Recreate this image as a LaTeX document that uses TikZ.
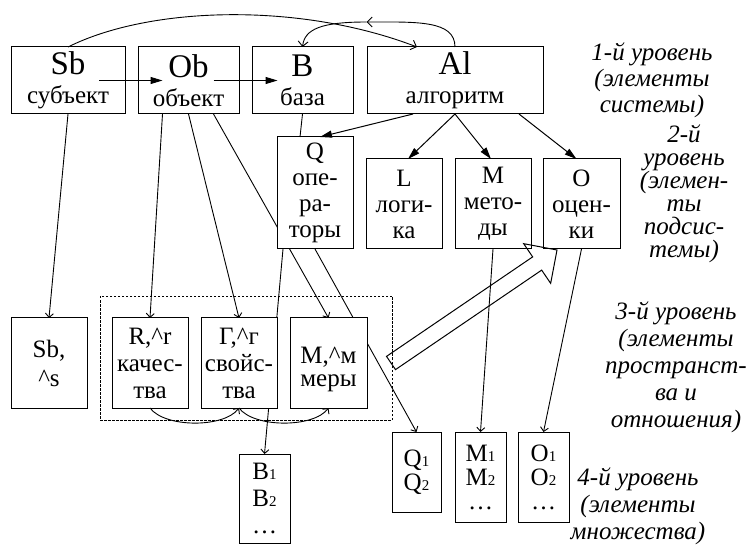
\documentclass[tikz,border=0pt]{standalone}
\usepackage{fontspec}
\setmainfont{Liberation Serif}
\usetikzlibrary{arrows.meta,calc,backgrounds}

% large letters in the top row, small digit indices in the bottom row
\newcommand\headlbl[1]{{\fontsize{33}{36}\selectfont #1}}
\newcommand\digsub[1]{{\fontsize{15}{15}\selectfont #1}}
\newcommand\tightlines{\lineskiplimit=-20pt\relax}

\tikzset{
  box/.style={draw, line width=1pt, fill=white, inner sep=0pt, outer sep=0pt,
    align=center},
  box1/.style={box, minimum height=67pt, font=\fontsize{25}{29}\selectfont},
  box2/.style={box, minimum width=76pt, minimum height=90pt,
    font=\fontsize{25}{26}\selectfont},
  box3/.style={box, minimum width=76pt, minimum height=90pt,
    font=\fontsize{25}{27}\selectfont},
  box4/.style={box, minimum width=51pt, minimum height=90pt,
    font=\fontsize{25}{24}\selectfont},
  txt/.style={inner sep=0pt, align=center},
  lvl/.style={inner sep=0pt, align=center},
  frame/.style={draw, line width=0.8pt, dash pattern=on 2.5pt off 1.5pt,
    inner sep=0pt},
  heavy/.style={line width=1pt, -{Triangle[length=12pt,width=7pt]}},
  conn/.style={line width=0.9pt, -{Straight Barb[length=4pt,width=8pt]}},
  arcline/.style={line width=0.9pt, -{Straight Barb[length=5pt,width=10pt]}},
  plain/.style={line width=0.9pt},
}

\begin{document}
\begin{tikzpicture}[x=1pt, y=-1pt]
\useasboundingbox (0,0) rectangle (747,545);

% ---- level 1: system elements
\node[box1, minimum width=114pt] (Sb) at (68,80.5) {\headlbl{Sb}\\субъект};
\node[box1, minimum width=101pt] (Ob) at (188.5,80.5) {\headlbl{Ob}\\объект};
\node[box1, minimum width=101pt] (B)  at (302.5,80.5) {\headlbl{B}\\база};
\node[box1, minimum width=176pt] (Al) at (455,80.5) {\headlbl{Al}\\алгоритм};

% ---- level 2: subsystem elements
\node[box2, minimum height=112pt] (Q) at (315,193) {Q\\опе-\\ра-\\торы};
\node[box2] (L) at (404,204) {L\\логи-\\ка};
\node[box2] (M) at (493,204) {M\\мето-\\ды};
\node[box2, minimum width=77pt] (O) at (581.5,204) {O\\оцен-\\ки};

% ---- level 3: space and relation elements
\node[box3] (Sbs) at (49,363) {Sb,\\[2pt]\textasciicircum s};
\node[box3] (R) at (150,363) {R,\textasciicircum r\\качес-\\тва};
\node[box3] (G) at (239,363) {Г,\textasciicircum г\\свойс-\\тва};
\node[box3, minimum width=77pt] (Me) at (328.5,363) {};
\node[txt, font=\fontsize{25}{23}\selectfont] (Met) at (328.5,369)
  {M,\textasciicircum м\\меры};

% ---- level 4: set elements
\node[box, minimum width=49pt, minimum height=80pt,
  font=\fontsize{25}{24}\selectfont] (Q1) at (416.5,472)
  {Q\digsub{1}\\Q\digsub{2}};
\node[box4] (M1) at (480.5,477) {M\digsub{1}\\M\digsub{2}\\…};
\node[box4] (O1) at (543.5,477) {O\digsub{1}\\O\digsub{2}\\…};
\node[box, minimum width=51pt, minimum height=89pt,
  font=\fontsize{25}{27}\selectfont] (B1) at (264.5,498.5)
  {B\digsub{1}\\B\digsub{2}\\…};

% ---- level captions
\node[lvl, font=\fontsize{25}{26}\selectfont\itshape] (lv1) at (652,80)
  {1-й уровень\\(элементы\\системы)};
\node[lvl, font={\fontsize{25}{23}\selectfont\itshape\tightlines}] (lv2) at (684,194)
  {2-й\\уровень\\(элемен-\\ты\\подсис-\\темы)};
\node[lvl, font=\fontsize{25}{27}\selectfont\itshape] (lv3) at (676,367)
  {3-й уровень\\(элементы\\пространст-\\ва и\\отношения)};
\node[lvl, font=\fontsize{25}{27}\selectfont\itshape] (lv4) at (638,506)
  {4-й уровень\\(элементы\\множества)};

% ---- lines running behind the boxes, and the dashed group frame
\begin{pgfonlayer}{background}
  \node[frame, minimum width=292pt, minimum height=124pt] (grp) at (246,358) {};
  \draw[conn] ($(Ob.south)+(25,0)$) -- (Me.north);
  \draw[conn] ($(Q.south)+(-32,0)$) -- (B1.north);
  \draw[conn] (Q.south) -- (Q1.north);
\end{pgfonlayer}

% ---- top row arrows
\draw[heavy] ($(Sb)+(31,0)$) -- ($(Ob)+(-26,0)$);
\draw[heavy] ($(Ob)+(25,0)$) -- ($(B)+(-25,0)$);

% ---- curved links over the top row
\coordinate (albmid) at ($(B.north)!0.42!(Al.north)+(0,-25)$);
\draw[arcline] (Sb.north) .. controls (150,6) and (300,2) .. ($(Al.north west)+(50,0)$);
\draw[arcline] (Al.north) .. controls ($(Al.north)+(0,-27)$) and ($(albmid)+(50,0)$) .. (albmid);
\draw[arcline] (albmid) .. controls ($(albmid)+(-45,0)$) and ($(B.north)+(2,-18)$) .. (B.north);

% ---- algorithm to its subsystems
\draw[plain] (B.south) -- ($(Q.north)+(-15,0)$);
\draw[heavy] ($(Al.south)+(-42,0)$) -- ($(Q.north)+(5,0)$);
\draw[heavy] (Al.south) -- ($(L.north)+(4,0)$);
\draw[heavy] (Al.south) -- ($(M.north)+(-2,0)$);
\draw[heavy] ($(Al.south)+(64,0)$) -- ($(O.north)+(-5,0)$);

% ---- links down to levels 3 and 4
\draw[conn] (Sb.south) -- (Sbs.north);
\draw[conn] ($(Ob.south)+(-26,0)$) -- (R.north);
\draw[conn] (Ob.south) -- (G.north);
\draw[conn] (M.south) -- (M1.north);
\draw[conn] (O.south) -- (O1.north);

% ---- links between the level-3 boxes
\draw[conn] (R.south) .. controls +(15,20) and +(-15,20) .. (G.south);
\draw[conn] (G.south) .. controls +(15,20) and +(-15,20) .. (Me.south);

% ---- hollow block arrow from the measures to the estimates
\coordinate (bigtail) at ($(Me.east)+(24,0)$);
\coordinate (bigtip) at ($(O.south)+(-24.5,1)$);
\coordinate (bighead) at ($(bigtip)!24pt!(bigtail)$);
\draw[line width=1pt, line join=miter]
  ($(bigtail)!8pt!90:(bigtip)$) --
  ($(bighead)!8pt!-90:(bigtail)$) --
  ($(bighead)!24pt!-90:(bigtail)$) --
  (bigtip) --
  ($(bighead)!24pt!90:(bigtail)$) --
  ($(bighead)!8pt!90:(bigtail)$) --
  ($(bigtail)!8pt!-90:(bigtip)$) -- cycle;
\end{tikzpicture}
\end{document}
